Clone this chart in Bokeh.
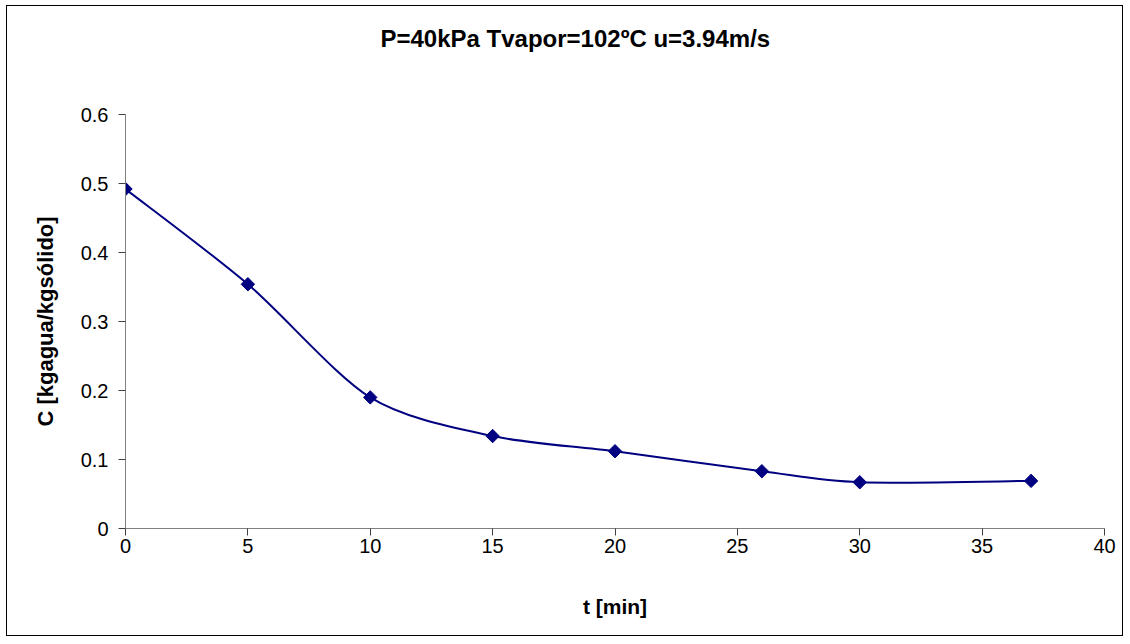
import numpy as np
from bokeh.plotting import figure
from bokeh.models import FixedTicker, Range1d, ColumnDataSource, Title
from bokeh.embed import file_html
from bokeh.resources import INLINE

# ---- data ----
t_min = [0, 5, 10, 15, 20, 26, 30, 37]
C_val = [0.492, 0.354, 0.190, 0.134, 0.112, 0.083, 0.067, 0.069]

x_ticks = [0, 5, 10, 15, 20, 25, 30, 35, 40]
y_ticks = [0, 0.1, 0.2, 0.3, 0.4, 0.5, 0.6]
y_tick_labels = ["0", "0.1", "0.2", "0.3", "0.4", "0.5", "0.6"]

title_text = "P=40kPa  Tvapor=102ºC u=3.94m/s"
x_label = "t [min]"
y_label = "C [kgagua/kgsólido]"

NAVY = "#000080"
FONT = "Liberation Sans"

p = figure(width=1117, height=631, output_backend="svg", toolbar_location=None,
           x_range=Range1d(0, 40), y_range=Range1d(0, 0.6),
           min_border_left=118, min_border_right=20,
           min_border_top=108, min_border_bottom=109)
p.styles = {"border": "1px solid black", "margin-left": "6px", "margin-top": "5px"}

p.background_fill_color = "white"
p.border_fill_color = "white"
p.outline_line_color = None
p.xgrid.visible = False
p.ygrid.visible = False

# title
p.title.text = title_text
p.title.text_font = FONT
p.title.text_font_size = "24px"
p.title.text_font_style = "bold"
p.title.text_color = "black"
p.title.align = "left"
p.title.offset = 255
p.title.standoff = 0
p.title.vertical_align = "bottom"

# empty spacer between the title and the plot area
p.add_layout(Title(text=" ", text_font_size="1px", standoff=60), "above")

# axes
for ax in (p.xaxis[0], p.yaxis[0]):
    ax.axis_line_color = "#808080"
    ax.major_tick_line_color = "#404040"
    ax.minor_tick_line_color = None
    ax.major_tick_in = 0
    ax.major_tick_out = 7
    ax.major_label_text_font = FONT
    ax.major_label_text_font_size = "20px"
    ax.major_label_text_color = "black"
    ax.axis_label_text_font = FONT
    ax.axis_label_text_font_size = "21px"
    ax.axis_label_text_font_style = "bold"
    ax.axis_label_text_color = "black"

p.yaxis.axis_label_text_font_size = "22px"
p.xaxis.ticker = FixedTicker(ticks=x_ticks)
p.yaxis.ticker = FixedTicker(ticks=y_ticks)
p.yaxis.major_label_overrides = {k: v for k, v in zip(y_ticks, y_tick_labels)}
p.xaxis.axis_label = x_label
p.yaxis.axis_label = y_label
p.xaxis.major_label_standoff = 3
p.yaxis.major_label_standoff = 10
p.xaxis.axis_label_standoff = 39
p.yaxis.axis_label_standoff = 20

# smoothed line (Bezier through the data points)
xs = np.array(t_min, dtype=float)
ys = np.array(C_val, dtype=float)
n = len(xs)
xp = np.concatenate([[xs[0]], xs, [xs[-1]]])
yp = np.concatenate([[ys[0]], ys, [ys[-1]]])
k = 1.0 / 7.0
x0 = xs[:-1]; y0 = ys[:-1]; x1 = xs[1:]; y1 = ys[1:]
cx0 = xs[:-1] + (xp[2:n + 1] - xp[0:n - 1]) * k
cy0 = ys[:-1] + (yp[2:n + 1] - yp[0:n - 1]) * k
cx1 = xs[1:] - (xp[3:n + 2] - xp[1:n]) * k
cy1 = ys[1:] - (yp[3:n + 2] - yp[1:n]) * k

bez = ColumnDataSource(dict(x0=x0, y0=y0, x1=x1, y1=y1, cx0=cx0, cy0=cy0, cx1=cx1, cy1=cy1))
p.bezier(x0="x0", y0="y0", x1="x1", y1="y1", cx0="cx0", cy0="cy0", cx1="cx1", cy1="cy1",
         source=bez, line_color=NAVY, line_width=2)

pts = ColumnDataSource(dict(t=t_min, c=C_val))
p.scatter("t", "c", source=pts, marker="square", angle=np.pi / 4, size=9.5,
          fill_color=NAVY, line_color=NAVY)

open("out.html", "w").write(file_html(p, INLINE))
